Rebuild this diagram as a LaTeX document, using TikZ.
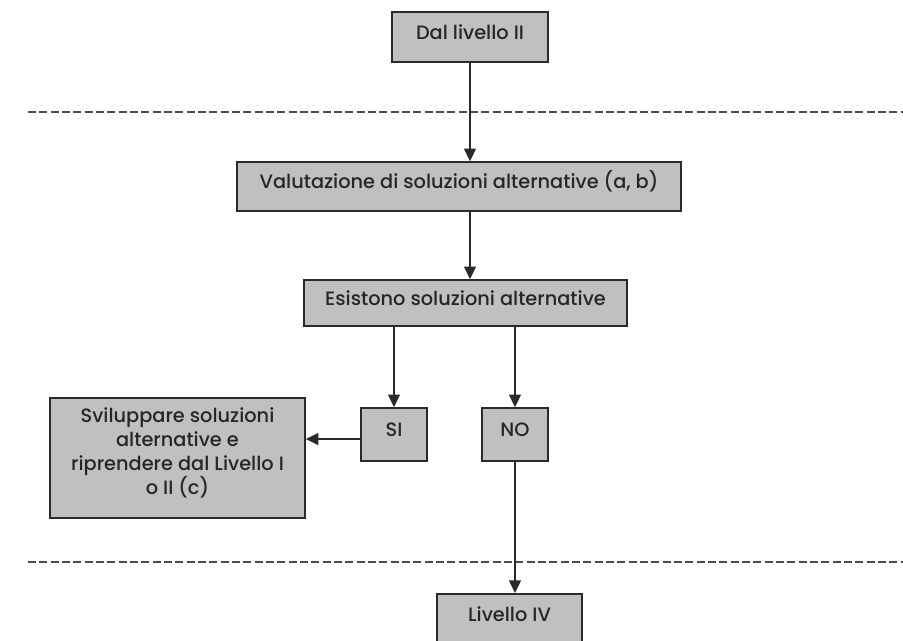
\documentclass[tikz,border=0pt]{standalone}
\usepackage{fontspec}
\setmainfont{Poppins Medium}
\usetikzlibrary{arrows.meta}
\definecolor{boxgray}{HTML}{C0C0C0}
\definecolor{edge}{HTML}{2A2A2A}
\tikzset{
  txt/.style={font=\fontsize{14.5}{18}\selectfont, text=black!85},
  box/.style={draw=edge, line width=1.2pt, fill=boxgray, inner sep=0pt, txt},
  onel/.style={text height=8pt, text depth=5pt},
  arr/.style={draw=edge, line width=1pt, -{Triangle[width=9pt,length=9.5pt]}},
  sep/.style={draw=black!70, line width=0.8pt, dash pattern=on 6pt off 2.5pt}
}
\begin{document}
\begin{tikzpicture}[x=0.75pt,y=-0.75pt]
\clip (0,0) rectangle (903,640);
\useasboundingbox (0,0) rectangle (903,640);
\node[box, onel, minimum width=156*0.75pt, minimum height=50*0.75pt] (b1) at (470,37) {Dal livello II};
\node[box, onel, minimum width=444*0.75pt, minimum height=49*0.75pt] (b2) at (459,186.5) {Valutazione di soluzioni alternative (a, b)};
\node[box, onel, minimum width=323*0.75pt, minimum height=46*0.75pt] (b3) at (465.5,303) {Esistono soluzioni alternative};
\node[box, onel, minimum width=66*0.75pt, minimum height=53*0.75pt] (si) at (394,434.5) {SI};
\node[box, onel, minimum width=66*0.75pt, minimum height=53*0.75pt] (no) at (515,434.5) {NO};
\node[box, minimum width=255*0.75pt, minimum height=120*0.75pt] (sv) at (177.5,458) {};
\node[txt, align=center, inner sep=0pt] (svt) at (177.5,453) {Sviluppare soluzioni\\alternative e\\riprendere dal Livello I\\o II (c)};
\node[box, minimum width=145*0.75pt, minimum height=60*0.75pt, anchor=north] (b4) at (509.5,593) {};
\node[txt, inner sep=0pt] (b4t) at (509.5,614) {Livello IV};
\coordinate (l1a) at (28,112);
\coordinate (l1b) at (903,112);
\coordinate (l2a) at (28,562);
\coordinate (l2b) at (903,562);
\draw[sep] (l1a) -- (l1b);
\draw[sep] (l2a) -- (l2b);
\draw[arr] (b1.south) -- (b2.north -| b1.south);
\draw[arr] (b2.south -| b1.south) -- (b3.north -| b1.south);
\draw[arr] (b3.south -| si) -- (si.north);
\draw[arr] (b3.south -| no) -- (no.north);
\draw[arr] ([yshift=-3.4pt]si.west) -- ([yshift=-3.4pt]si.west -| sv.east);
\draw[arr] (no.south) -- (b4.north -| no.south);
\end{tikzpicture}
\end{document}
